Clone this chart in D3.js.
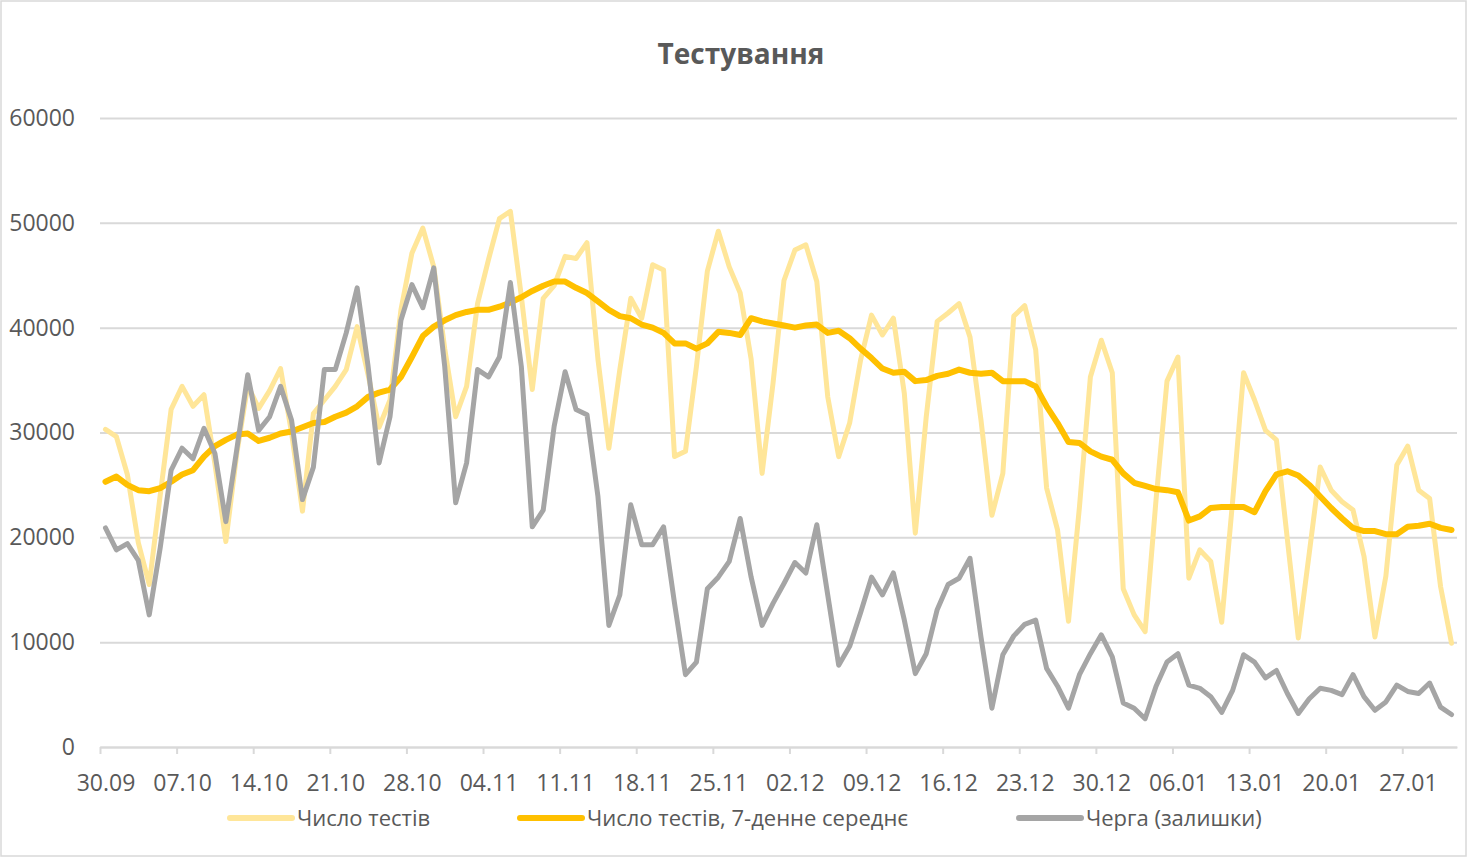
<!DOCTYPE html>
<html>
<head>
<meta charset="utf-8">
<title>Тестування</title>
<script src="https://cdn.jsdelivr.net/npm/d3@7"></script>
<style>
  body { margin: 0; background: #fff; }
  text { font-family: "Open Sans", "Noto Sans", sans-serif; fill: #595959; }
</style>
</head>
<body>
<div id="d3-container"></div>
<script>
/* CONSTANTS AND GLOBALS */
const width = 1469,
  height = 860,
  margin = { top: 118, bottom: 113, left: 100, right: 12 };

const startDate = new Date(2020, 8, 30);
const endDate = new Date(2021, 1, 1); // axis runs to the end of 31.01

const tickLabels = ["30.09", "07.10", "14.10", "21.10", "28.10", "04.11", "11.11", "18.11", "25.11",
  "02.12", "09.12", "16.12", "23.12", "30.12", "06.01", "13.01", "20.01", "27.01"];
const yTicks = [0, 10000, 20000, 30000, 40000, 50000, 60000];

// daily values, 30.09 -> 31.01
const tests = [30300, 29600, 26000, 19500, 15500, 24000, 32200, 34400, 32500, 33600,
  27000, 19600, 28000, 34500, 32300, 34000, 36100, 30000, 22500, 31800,
  33100, 34400, 36000, 40100, 35500, 30500, 33100, 41700, 47100, 49500,
  45800, 38000, 31500, 34400, 42300, 46500, 50400, 51100, 43000, 34100,
  42800, 44000, 46800, 46600, 48100, 37000, 28500, 36000, 42800, 40900,
  46000, 45500, 27700, 28200, 36300, 45400, 49200, 45800, 43300, 37000,
  26100, 34700, 44500, 47400, 47900, 44400, 33400, 27700, 30900, 36900,
  41200, 39300, 40900, 33700, 20400, 31500, 40600, 41400, 42300, 39100,
  31200, 22100, 26100, 41100, 42100, 37900, 24700, 20700, 12000, 22900,
  35300, 38800, 35700, 15100, 12600, 11000, 23600, 34900, 37200, 16100,
  18800, 17700, 11900, 23500, 35700, 33100, 30200, 29300, 19800, 10400,
  18500, 26700, 24500, 23400, 22600, 18200, 10500, 16300, 26900, 28700,
  24500, 23700, 15300, 9900];

const tests7day = [25300, 25800, 25000, 24500, 24400, 24700, 25300, 26000, 26400, 27700,
  28700, 29300, 29800, 29900, 29200, 29500, 29900, 30100, 30500, 30900,
  31000, 31500, 31900, 32500, 33400, 33800, 34100, 35300, 37200, 39200,
  40100, 40700, 41200, 41500, 41700, 41700, 42000, 42400, 42900, 43500,
  44000, 44400, 44400, 43800, 43300, 42500, 41700, 41100, 40900, 40300,
  40000, 39500, 38500, 38500, 38000, 38500, 39600, 39500, 39300, 40900,
  40600, 40400, 40200, 40000, 40200, 40300, 39500, 39700, 39000, 38000,
  37100, 36100, 35700, 35800, 34900, 35000, 35400, 35600, 36000, 35700,
  35600, 35700, 34900, 34900, 34900, 34400, 32500, 30900, 29100, 29000,
  28200, 27700, 27400, 26100, 25200, 24900, 24600, 24500, 24300, 21600,
  22000, 22800, 22900, 22900, 22900, 22400, 24400, 26000, 26300, 25900,
  25000, 23900, 22800, 21800, 20900, 20600, 20600, 20300, 20300, 21000,
  21100, 21300, 20900, 20700];

const queue = [20900, 18800, 19400, 17800, 12600, 19000, 26400, 28500, 27500, 30400,
  28000, 21500, 28400, 35500, 30200, 31500, 34400, 31200, 23600, 26700,
  36000, 36000, 39500, 43800, 36300, 27100, 31500, 40700, 44100, 41900,
  45700, 36300, 23300, 27100, 36000, 35300, 37200, 44300, 36300, 21000,
  22600, 30600, 35800, 32200, 31700, 23900, 11600, 14500, 23100, 19300,
  19300, 21000, 13700, 6900, 8100, 15100, 16200, 17700, 21800, 16200,
  11600, 13700, 15600, 17600, 16600, 21200, 14500, 7800, 9600, 12800,
  16200, 14500, 16600, 12100, 7000, 8900, 13100, 15500, 16100, 18000,
  10500, 3700, 8800, 10600, 11700, 12100, 7500, 5800, 3700, 6900,
  8900, 10700, 8600, 4200, 3700, 2700, 5800, 8100, 8900, 5900,
  5600, 4800, 3300, 5400, 8800, 8100, 6600, 7300, 5100, 3200,
  4600, 5600, 5400, 5000, 6900, 4800, 3500, 4300, 5900, 5300,
  5100, 6100, 3800, 3100];

const seriesNames = ["Число тестів", "Число тестів, 7-денне середнє", "Черга (залишки)"];
const seriesColors = ["#ffe699", "#ffc000", "#a5a5a5"];
const seriesWidths = [5, 6, 5];

let svg;
let xScale;
let yScale;

init();

function init() {
  const days = d3.timeDay.range(startDate, endDate);
  const allSeries = [tests, tests7day, queue];

  svg = d3.select("#d3-container")
    .append("svg")
      .attr("width", width)
      .attr("height", height);

  // outer chart border
  svg.append("rect")
    .attr("x", 1)
    .attr("y", 1)
    .attr("width", width - 4)
    .attr("height", height - 5)
    .attr("fill", "white")
    .attr("stroke", "#d9d9d9")
    .attr("stroke-width", 1.5);

  xScale = d3.scaleTime()
    .domain([startDate, endDate])
    .range([margin.left, width - margin.right]);

  yScale = d3.scaleLinear()
    .domain([0, 60000])
    .range([height - margin.bottom, margin.top]);

  const halfDay = (xScale(days[1]) - xScale(days[0])) / 2;

  // gridlines + y labels
  const yAxis = d3.axisLeft(yScale)
    .tickValues(yTicks)
    .tickSize(-(width - margin.left - margin.right))
    .tickPadding(25)
    .tickFormat(d3.format("d"));

  svg.append("g")
    .attr("class", "myY-axis")
    .attr("transform", `translate(${margin.left},0)`)
    .call(yAxis)
    .call(g => g.select(".domain").remove())
    .call(g => g.selectAll("line").attr("stroke", "#d9d9d9").attr("stroke-width", 2))
    .call(g => g.selectAll("text")
      .attr("font-size", 23)
      .attr("fill", "#595959"));

  // x axis, ticks every 7 days
  const weekTicks = d3.timeDay.range(startDate, endDate, 7);
  const xAxis = d3.axisBottom(xScale)
    .tickValues(weekTicks)
    .tickSize(7)
    .tickSizeOuter(0)
    .tickPadding(21)
    .tickFormat((d, i) => tickLabels[i]);

  svg.append("g")
    .attr("class", "myX-axis")
    .attr("transform", `translate(0,${height - margin.bottom})`)
    .call(xAxis)
    .call(g => g.select(".domain").attr("stroke", "#d9d9d9").attr("stroke-width", 2))
    .call(g => g.selectAll("line").attr("stroke", "#d9d9d9").attr("stroke-width", 2))
    .call(g => g.selectAll("text")
      .attr("font-size", 23)
      .attr("fill", "#595959")
      .attr("dx", halfDay));

  // lines, drawn in series order (queue on top)
  const line = d3.line()
    .x((d, i) => xScale(d3.timeHour.offset(days[i], 12)))
    .y(d => yScale(d));

  svg.selectAll(".series")
    .data(allSeries)
    .join("path")
      .attr("class", "series")
      .attr("d", d => line(d))
      .attr("fill", "none")
      .attr("stroke", (d, i) => seriesColors[i])
      .attr("stroke-width", (d, i) => seriesWidths[i])
      .attr("stroke-linejoin", "round")
      .attr("stroke-linecap", "round");

  svg.append("text")
    .attr("x", 741)
    .attr("y", 64)
    .attr("text-anchor", "middle")
    .attr("font-size", 28)
    .attr("font-weight", "bold")
    .text("Тестування");

  drawLegend();
}

function drawLegend() {
  const legendX = [230, 520, 1019];
  const legend = svg.append("g")
    .attr("class", "legend")
    .attr("transform", "translate(0,818)");

  const item = legend.selectAll("g")
    .data(seriesNames)
    .join("g")
      .attr("transform", (d, i) => `translate(${legendX[i]},0)`);

  item.append("line")
    .attr("x1", 0)
    .attr("x2", 62)
    .attr("stroke", (d, i) => seriesColors[i])
    .attr("stroke-width", 6)
    .attr("stroke-linecap", "round");

  item.append("text")
    .attr("x", 67)
    .attr("dy", "0.35em")
    .attr("font-size", 22)
    .text(d => d);
}
</script>
</body>
</html>
